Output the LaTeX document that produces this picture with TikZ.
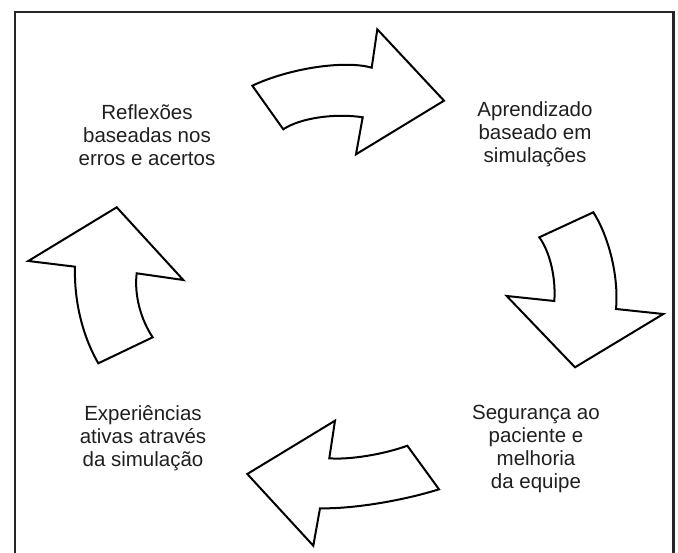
\documentclass[tikz,border=0pt]{standalone}
\usepackage{fontspec}
\setmainfont{Liberation Sans}
\begin{document}
\begin{tikzpicture}[x=1pt,y=-1pt,
  blockarrow/.style={draw=black,line width=2pt,fill=white,line join=miter},
  label/.style={align=center,text=black!88,font=\fontsize{20.5}{22.8}\selectfont,inner sep=0pt}]
\useasboundingbox (0,0) rectangle (678,553);
% frame
\draw[line width=2.4pt,draw=black!85] (14.7,555) -- (14.7,12.3) -- (673.3,12.3) -- (673.3,555);
% top arrow
\draw[blockarrow] (252.3,85.7) .. controls (290,68) and (345,60) .. (371.7,67.7)
  -- (377.3,29.3) -- (444,100.7) -- (356,154.3) -- (362.7,117.3)
  .. controls (335,113) and (300,118) .. (283.3,129.3) -- cycle;
% right arrow
\draw[blockarrow] (539.3,237.3) -- (593.3,212.3)
  .. controls (608,235) and (619,275) .. (616,309)
  -- (663.3,314) -- (575,367.3) -- (506.7,296) -- (554.3,301)
  .. controls (556,278) and (550,252) .. cycle;
% bottom arrow
\draw[blockarrow] (407.3,445.7) .. controls (385,454) and (350,460) .. (329.3,458.3)
  -- (335,420.7) -- (247.3,474) -- (313.3,545.7) -- (320,508.3)
  .. controls (355,509) and (405,500) .. (439,489.3) -- cycle;
% left arrow
\draw[blockarrow] (116.7,207.3) -- (183.3,280) -- (136.7,273.3)
  .. controls (134,295) and (141,320) .. (152.7,337.3)
  -- (98.3,363.3) .. controls (82,335) and (74,300) .. (75,266.7)
  -- (28.3,261) -- cycle;
% labels
\node[label] (refl) at (147,135) {Reflexões\\baseadas nos\\erros e acertos};
\node[label] (apre) at (535,134) {Aprendizado\\baseado em\\simulações};
\node[label] (segu) at (536,449) {Segurança ao\\paciente e\\melhoria\\da equipe};
\node[label] (expe) at (143,438) {Experiências\\ativas através\\da simulação};
\end{tikzpicture}
\end{document}
